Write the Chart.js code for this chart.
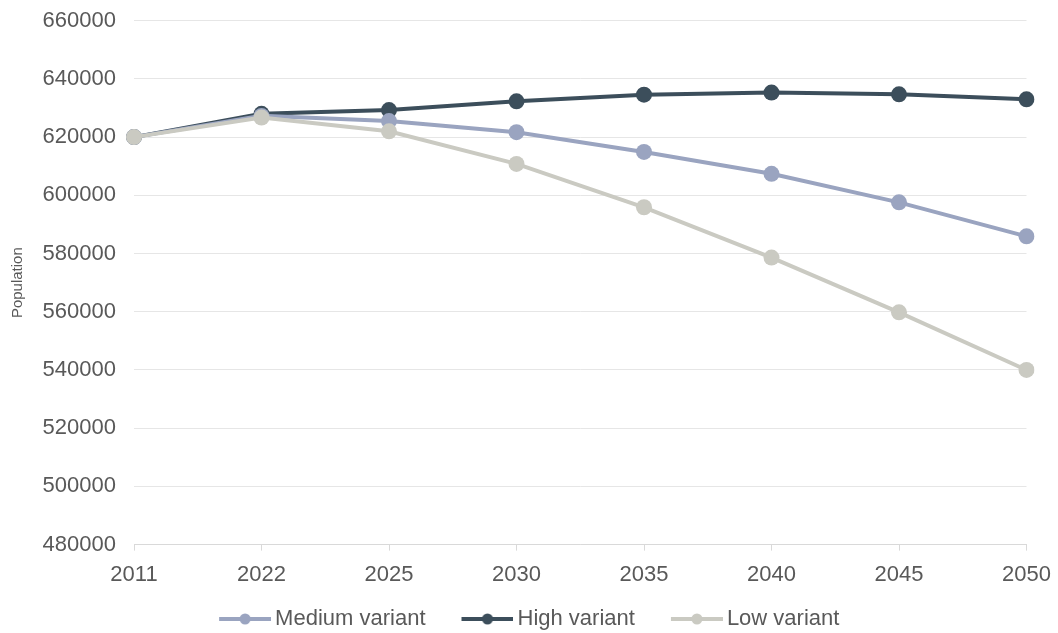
<!DOCTYPE html>
<html>
<head>
<meta charset="utf-8">
<script src="https://cdn.jsdelivr.net/npm/chart.js@4/dist/chart.umd.min.js"></script>
<style>
  html, body { margin: 0; padding: 0; background: #ffffff; }
  #chart { display: block; }
</style>
</head>
<body>
<canvas id="chart" width="1058" height="633"></canvas>
<script>
// Population projections by variant
const years = ['2011', '2022', '2025', '2030', '2035', '2040', '2045', '2050'];
const mediumVariant = [620000, 627300, 625500, 621700, 614900, 607400, 597600, 585900];
const highVariant   = [620000, 628000, 629300, 632300, 634600, 635300, 634700, 633000];
const lowVariant    = [620000, 626700, 622000, 610800, 595900, 578600, 559800, 540000];
const seriesNames = ['Medium variant', 'High variant', 'Low variant'];

const yMin = 480000;
const yMax = 660000;
const yStep = 20000;

const COLORS = {
  medium: '#9aa4c0',
  high: '#3c4e5b',
  low: '#cacac2'
};
const TEXT = '#595959';
const FONT = "'Liberation Sans', Arial, sans-serif";

// Legend marker: a short line with a dot in the middle
function legendMarker(color) {
  const c = document.createElement('canvas');
  c.width = 91;
  c.height = 14;
  const g = c.getContext('2d');
  g.strokeStyle = color;
  g.lineWidth = 4;
  g.beginPath();
  g.moveTo(39, 7);
  g.lineTo(91, 7);
  g.stroke();
  g.fillStyle = color;
  g.beginPath();
  g.arc(65, 7, 5.5, 0, Math.PI * 2);
  g.fill();
  return c;
}

const markers = [legendMarker(COLORS.medium), legendMarker(COLORS.high), legendMarker(COLORS.low)];

function lineSet(label, data, color, order) {
  return {
    label,
    data,
    order,
    borderColor: color,
    backgroundColor: color,
    borderWidth: 4,
    tension: 0,
    pointRadius: 8,
    pointHoverRadius: 8,
    pointBorderWidth: 0,
    pointBackgroundColor: color
  };
}

new Chart(document.getElementById('chart'), {
  type: 'line',
  data: {
    labels: years,
    datasets: [
      lineSet(seriesNames[0], mediumVariant, COLORS.medium, 1),
      lineSet(seriesNames[1], highVariant, COLORS.high, 2),
      lineSet(seriesNames[2], lowVariant, COLORS.low, 0)
    ]
  },
  options: {
    responsive: false,
    animation: false,
    layout: { padding: { left: 0, right: 31.5, top: 0, bottom: -7 } },
    plugins: {
      tooltip: { enabled: false },
      legend: {
        position: 'bottom',
        labels: {
          usePointStyle: true,
          pointStyleWidth: 77,
          padding: 4,
          color: TEXT,
          font: { family: FONT, size: 22 },
          sort: (a, b) => a.datasetIndex - b.datasetIndex,
          generateLabels: (chart) =>
            Chart.defaults.plugins.legend.labels.generateLabels(chart).map((item) => ({
              ...item,
              pointStyle: markers[item.datasetIndex]
            }))
        }
      }
    },
    scales: {
      x: {
        type: 'category',
        offset: false,
        afterFit: (scale) => { scale.height = 59.4; },
        grid: {
          display: true,
          drawOnChartArea: false,
          drawTicks: true,
          tickLength: 6,
          color: '#d9d9d9'
        },
        border: { display: true, color: '#d9d9d9', width: 1 },
        ticks: {
          color: TEXT,
          padding: 7,
          maxRotation: 0,
          autoSkip: false,
          font: { family: FONT, size: 22, lineHeight: 1.56 }
        }
      },
      y: {
        min: yMin,
        max: yMax,
        afterFit: (scale) => { scale.width = 134; },
        grid: {
          color: '#e6e6e6',
          drawTicks: true,
          tickLength: 10.5,
          tickColor: 'rgba(0,0,0,0)',
          lineWidth: 1
        },
        border: { display: false },
        title: {
          display: true,
          text: 'Population',
          color: TEXT,
          font: { family: FONT, size: 15 },
          padding: { top: 9, bottom: 0 }
        },
        ticks: {
          stepSize: yStep,
          color: TEXT,
          padding: 7.5,
          font: { family: FONT, size: 22 },
          callback: (v) => String(v)
        }
      }
    }
  }
});
</script>
</body>
</html>
